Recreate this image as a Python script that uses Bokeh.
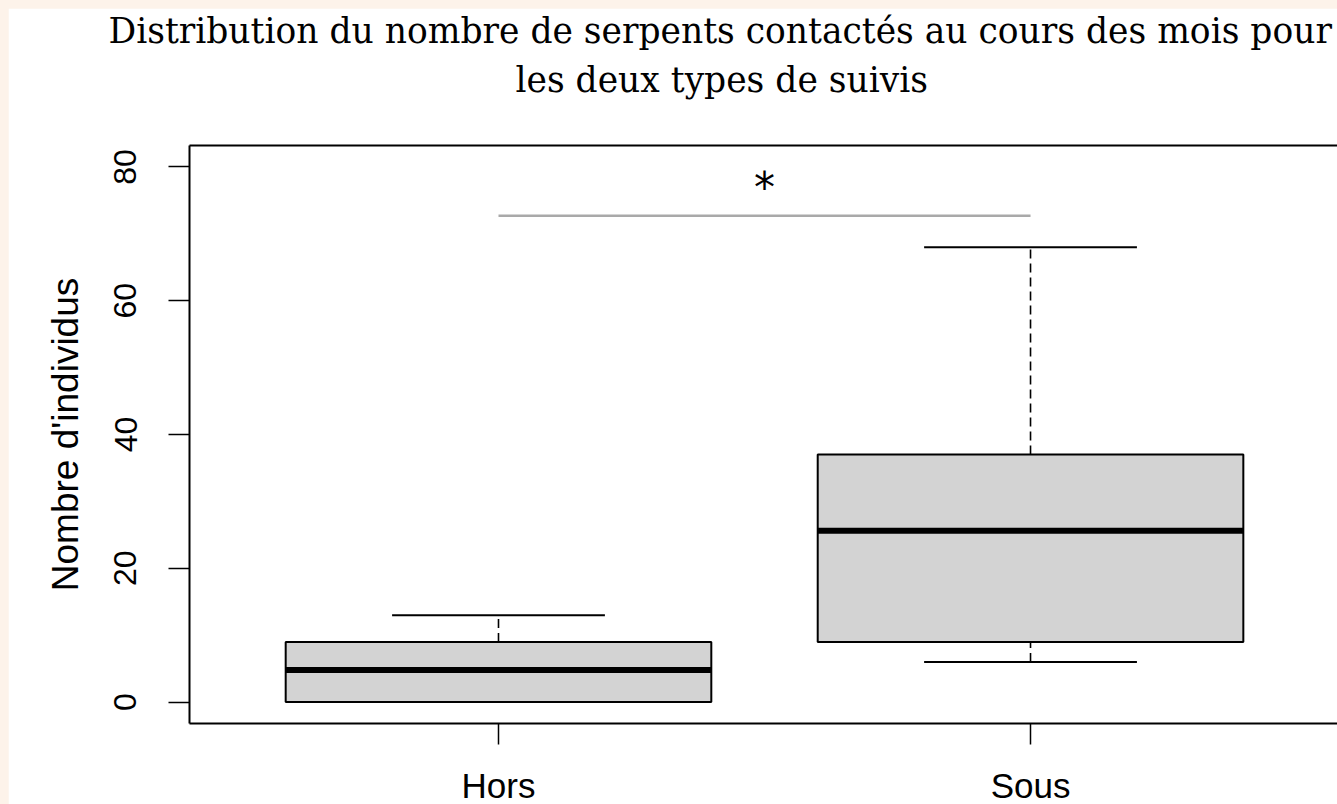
from bokeh.plotting import figure
from bokeh.models import Range1d, FixedTicker, LinearAxis, Title, ColumnDataSource
from bokeh.embed import file_html
from bokeh.resources import INLINE
from bokeh.core.properties import value

# ---- data ----
categories = ["Hors", "Sous"]
positions = [1, 2]
whisker_low = [0, 6]
q1 = [0, 9]
median = [4.8, 25.6]
q3 = [9, 37]
whisker_high = [13, 68]
signif_y = 72.7
signif_label = "*"
title_line1 = "Distribution du nombre de serpents contactés au cours des mois pour"
title_line2 = "les deux types de suivis"
y_label = "Nombre d'individus"
y_ticks = [0, 20, 40, 60, 80]

box_half = 0.4
cap_half = 0.2

src = ColumnDataSource(dict(
    x=positions,
    left=[p - box_half for p in positions],
    right=[p + box_half for p in positions],
    cap_l=[p - cap_half for p in positions],
    cap_r=[p + cap_half for p in positions],
    wl=whisker_low, q1=q1, med=median, q3=q3, wh=whisker_high,
))

p = figure(width=1329, height=800, output_backend="svg", toolbar_location=None,
           title=None,
           x_range=Range1d(0.4192, 2.577), y_range=Range1d(-3.2, 83.2),
           min_border_left=181, min_border_top=137, min_border_bottom=85, min_border_right=0)
p.background_fill_color = "white"
p.border_fill_color = "white"
p.outline_line_color = None
p.xgrid.visible = False
p.ygrid.visible = False

# boxes
p.quad(left="left", right="right", bottom="q1", top="q3", source=src,
       fill_color="#d3d3d3", line_color="black", line_width=2)
# medians
p.segment(x0="left", x1="right", y0="med", y1="med", source=src,
          line_color="black", line_width=6)
# whiskers
p.segment(x0="x", x1="x", y0="q3", y1="wh", source=src,
          line_color="black", line_width=1.6, line_dash="9 5")
p.segment(x0="x", x1="x", y0="wl", y1="q1", source=src,
          line_color="black", line_width=1.6, line_dash="9 5")
# caps
p.segment(x0="cap_l", x1="cap_r", y0="wh", y1="wh", source=src,
          line_color="black", line_width=2)
p.segment(x0="cap_l", x1="cap_r", y0="wl", y1="wl", source=src,
          line_color="black", line_width=2)

# significance bar
p.segment(x0=[positions[0]], x1=[positions[1]], y0=[signif_y], y1=[signif_y],
          line_color="#a9a9a9", line_width=2.5)
p.text(x=[(positions[0] + positions[1]) / 2], y=[signif_y + 4.2], text=[signif_label],
       text_font=value("DejaVu Sans"), text_font_size="42px", text_color="black",
       text_align="center", text_baseline="middle")

# axes
ax = p.xaxis[0]
ax.ticker = FixedTicker(ticks=positions)
ax.major_label_overrides = {pos: c for pos, c in zip(positions, categories)}
ax.major_label_text_font = "Liberation Sans"
ax.major_label_text_font_size = "35px"
ax.major_label_text_color = "black"
ax.major_label_standoff = 21
ax.major_tick_out = 21
ax.major_tick_in = 0
ax.minor_tick_line_color = None
ax.axis_line_width = 2
ax.major_tick_line_width = 1.5

ay = p.yaxis[0]
ay.ticker = FixedTicker(ticks=y_ticks)
ay.major_label_orientation = "vertical"
ay.major_label_text_font = "Liberation Sans"
ay.major_label_text_font_size = "32px"
ay.major_label_text_color = "black"
ay.major_label_standoff = 32
ay.major_tick_out = 21
ay.major_tick_in = 0
ay.minor_tick_line_color = None
ay.axis_line_width = 2
ay.major_tick_line_width = 1.5
ay.axis_label = y_label
ay.axis_label_text_font = "Liberation Sans"
ay.axis_label_text_font_size = "37px"
ay.axis_label_text_font_style = "normal"
ay.axis_label_text_color = "black"
ay.axis_label_standoff = 26

top_axis = LinearAxis(ticker=FixedTicker(ticks=[]), axis_line_width=2,
                      major_tick_out=0, major_tick_in=0,
                      major_tick_line_color=None, minor_tick_line_color=None,
                      major_label_text_font_size="0px")
p.add_layout(top_axis, "above")

# title (two lines); the later one is placed farther from the frame
t2 = Title(text=title_line2, align="left", offset=326, standoff=14,
           text_font="DejaVu Serif", text_font_size="34.5px",
           text_font_style="normal", text_color="black")
t1 = Title(text=title_line1, align="left", offset=-81, standoff=0,
           text_font="DejaVu Serif", text_font_size="34.5px",
           text_font_style="normal", text_color="black")
if "padding" in Title.properties():
    t2.padding = dict(left=0, right=0, top=0, bottom=39)
else:
    t2.standoff = 90
p.add_layout(t2, "above")
p.add_layout(t1, "above")

html = file_html(p, INLINE)
html = html.replace("</head>",
                    "<style>html,body{overflow:hidden;}body{background-color:#fdf3ea;margin:8px 0 0 8px;}</style></head>", 1)
open("out.html", "w").write(html)
